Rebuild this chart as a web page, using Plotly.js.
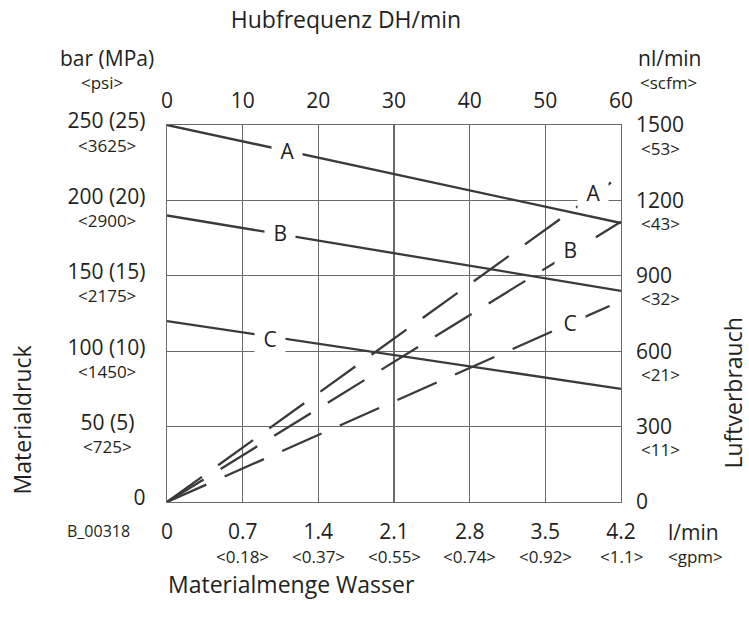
<!DOCTYPE html>
<html><head><meta charset="utf-8">
<script src="https://cdn.plot.ly/plotly-3.0.1.min.js"></script>
<style>html,body{margin:0;padding:0;background:#fff}</style>
</head><body><div id="chart" style="width:749px;height:618px"></div>
<script>
// ---- data ----
const strokeRate = [0, 60];            // Hubfrequenz DH/min
const pressureA = [250, 185];          // bar
const pressureB = [190, 140];
const pressureC = [120, 75];
const airA = [0, 1300];                // nl/min
const airB = [0, 1115];
const airC = [0, 800];

const flowTicks = [0, 0.7, 1.4, 2.1, 2.8, 3.5, 4.2];
const flowLabels = ['0', '0.7', '1.4', '2.1', '2.8', '3.5', '4.2'];
const gpmLabels = ['', '&lt;0.18&gt;', '&lt;0.37&gt;', '&lt;0.55&gt;', '&lt;0.74&gt;', '&lt;0.92&gt;', '&lt;1.1&gt;'];
const strokeTicks = [0, 10, 20, 30, 40, 50, 60];
const pressTicks = [0, 50, 100, 150, 200, 250];
const pressLabels = ['0', '50 (5)\u00a0\u00a0', '100 (10)', '150 (15)', '200 (20)', '250 (25)'];
const psiLabels = ['', '&lt;725&gt;', '&lt;1450&gt;', '&lt;2175&gt;', '&lt;2900&gt;', '&lt;3625&gt;'];
const airTicks = [0, 300, 600, 900, 1200, 1500];
const airLabels = ['0', '300', '600', '900', '1200', '1500'];
const scfmLabels = ['', '&lt;11&gt;', '&lt;21&gt;', '&lt;32&gt;', '&lt;43&gt;', '&lt;53&gt;'];
const curveNames = ['A', 'B', 'C'];

// ---- styling ----
const FONT = 'Open Sans, sans-serif';
const INK = '#231f20';
const LINE = '#3a3a3a';
const GRID = '#6a6a6a';
const DASH = '43px,20px';
const SUB = 17;

const traces = [
  {x: strokeRate, y: pressureA, xaxis: 'x2', yaxis: 'y', mode: 'lines', line: {color: LINE, width: 2.3}},
  {x: strokeRate, y: pressureB, xaxis: 'x2', yaxis: 'y', mode: 'lines', line: {color: LINE, width: 2.3}},
  {x: strokeRate, y: pressureC, xaxis: 'x2', yaxis: 'y', mode: 'lines', line: {color: LINE, width: 2.3}},
  {x: strokeRate, y: airA, xaxis: 'x2', yaxis: 'y2', mode: 'lines', line: {color: LINE, width: 2.3, dash: DASH}},
  {x: strokeRate, y: airB, xaxis: 'x2', yaxis: 'y2', mode: 'lines', line: {color: LINE, width: 2.3, dash: DASH}},
  {x: strokeRate, y: airC, xaxis: 'x2', yaxis: 'y2', mode: 'lines', line: {color: LINE, width: 2.3, dash: DASH}}
].map(t => Object.assign(t, {hoverinfo: 'skip', showlegend: false}));

const ann = [];
function txt(o) { ann.push(Object.assign({showarrow: false, xanchor: 'center', yanchor: 'middle', font: {family: FONT, size: 21, color: INK}}, o)); }

// curve labels (white boxes break the lines)
const labelPos = [
  {x: 15.8, y: 232.5}, {x: 14.95, y: 178.6}, {x: 13.6, y: 108.3},   // solid
  {x: 56.25, y: 204.8}, {x: 53.2, y: 167.2}, {x: 53.2, y: 118.5}    // dashed
];
labelPos.forEach((p, i) => txt({xref: 'x2', yref: 'y', x: p.x, y: p.y, text: '\u00a0' + curveNames[i % 3] + '\u00a0', bgcolor: '#ffffff', borderpad: 3}));

// secondary unit labels
pressTicks.forEach((v, i) => { if (psiLabels[i]) txt({xref: 'paper', yref: 'y', x: -0.1318, y: v, yshift: -20, text: psiLabels[i], font: {family: FONT, size: SUB, color: INK}}); });
airTicks.forEach((v, i) => { if (scfmLabels[i]) txt({xref: 'paper', yref: 'y2', x: 1.0397, xanchor: 'left', y: v, yshift: -23, text: scfmLabels[i], font: {family: FONT, size: SUB, color: INK}}); });
flowTicks.forEach((v, i) => { if (gpmLabels[i]) txt({xref: 'x', yref: 'paper', x: v, y: 0, yshift: -54, text: gpmLabels[i], font: {family: FONT, size: SUB, color: INK}}); });

// unit headings and axis titles
txt({xref: 'paper', yref: 'paper', x: -0.1329, y: 1, yshift: 67, text: 'bar (MPa)'});
txt({xref: 'paper', yref: 'paper', x: -0.1439, y: 1, yshift: 43, text: '&lt;psi&gt;', font: {family: FONT, size: SUB, color: INK}});
txt({xref: 'paper', yref: 'paper', x: 1.108, y: 1, yshift: 67, text: 'nl/min'});
txt({xref: 'paper', yref: 'paper', x: 1.1036, y: 1, yshift: 43, text: '&lt;scfm&gt;', font: {family: FONT, size: SUB, color: INK}});
txt({xref: 'paper', yref: 'paper', x: 1.1587, y: 0, yshift: -30, text: 'l/min'});
txt({xref: 'paper', yref: 'paper', x: 1.163, y: 0, yshift: -54, text: '&lt;gpm&gt;', font: {family: FONT, size: SUB, color: INK}});
txt({xref: 'paper', yref: 'paper', x: -0.1505, y: 0, yshift: -29, text: 'B_00318', font: {family: FONT, size: 16, color: INK}});
txt({xref: 'paper', yref: 'paper', x: 0.2737, y: 0, yshift: -82, text: 'Materialmenge Wasser', font: {family: FONT, size: 23, color: INK}});
txt({xref: 'paper', yref: 'paper', x: -0.3203, y: 0.218, textangle: -90, text: 'Materialdruck', font: {family: FONT, size: 23, color: INK}});
txt({xref: 'paper', yref: 'paper', x: 1.2469, y: 0.288, textangle: -90, text: 'Luftverbrauch', font: {family: FONT, size: 23, color: INK}});

const tickFont = {family: FONT, size: 21, color: INK};
const layout = {
  width: 749, height: 618,
  margin: {l: 167, r: 128, t: 125, b: 116, pad: 0},
  paper_bgcolor: '#ffffff', plot_bgcolor: '#ffffff',
  showlegend: false,
  font: {family: FONT, size: 21, color: INK},
  title: {text: 'Hubfrequenz DH/min', x: 346 / 749, xanchor: 'center', xref: 'container',
          y: 1 - 20 / 618, yanchor: 'middle', yref: 'container', font: {family: FONT, size: 23, color: INK}},
  xaxis: {range: [0, 4.2], tickmode: 'array', tickvals: flowTicks, ticktext: flowLabels, tickfont: tickFont,
          showgrid: true, gridcolor: GRID, gridwidth: 1.4, zeroline: false,
          showline: true, linecolor: GRID, linewidth: 1.4, mirror: true, ticks: '', ticklabelstandoff: 10, fixedrange: true},
  xaxis2: {overlaying: 'x', side: 'top', range: [0, 60], tickmode: 'array', tickvals: strokeTicks, tickfont: tickFont,
           showgrid: false, zeroline: false, showline: false, ticks: '', ticklabelstandoff: 12, fixedrange: true},
  yaxis: {range: [0, 250], tickmode: 'array', tickvals: pressTicks, ticktext: pressLabels, tickfont: tickFont,
          showgrid: true, gridcolor: GRID, gridwidth: 1.4, zeroline: false,
          showline: true, linecolor: GRID, linewidth: 1.4, mirror: true, ticks: '', ticklabelstandoff: 16, ticklabelshift: -4, fixedrange: true},
  yaxis2: {overlaying: 'y', side: 'right', range: [0, 1500], tickmode: 'array', tickvals: airTicks, ticktext: airLabels, tickfont: tickFont,
           showgrid: false, zeroline: false, showline: false, ticks: '', ticklabelstandoff: 14, fixedrange: true},
  annotations: ann
};

Plotly.newPlot('chart', traces, layout, {displayModeBar: false, staticPlot: true});
</script>
</body></html>
